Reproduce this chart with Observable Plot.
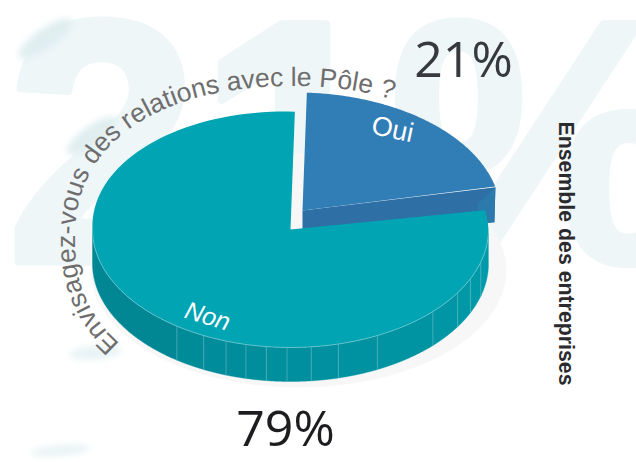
<!DOCTYPE html>
<html lang="fr">
<head>
<meta charset="utf-8">
<style>html,body{margin:0;padding:0;background:#fff}svg{display:block}</style>
<script src="https://cdn.jsdelivr.net/npm/d3@7"></script>
<script src="https://cdn.jsdelivr.net/npm/@observablehq/plot@0.6"></script>
</head>
<body>
<div id="chart"></div>
<script>
const categories = ["Oui", "Non"];
const shares = [21, 79];
const percentLabels = ["21%", "79%"];
const question = "Envisagez-vous des relations avec le Pôle ?";
const population = "Ensemble des entreprises";
const backdropLabel = "21%";
const wallRuleAngles = [106, 114.6, 122.5, 134, 154, 166, 174, 181, 187, 193, 199, 206, 215];
const wallColors = ["#009bab", "#00838f"];

const startAngle = 3, rx = 198, ry = 118, depth = 34, gap = 2;
const ouiCentre = [302, 210], nonCentre = [290, 229];
const ouiEnd = startAngle + 360 * shares[0] / 100;
const rad = a => a * Math.PI / 180;
const pt = (c, a, d = 0, r = rx, skew = 6) => ({
  x: c[0] + r * Math.sin(rad(a)) - skew * Math.max(0, Math.cos(rad(a))),
  y: c[1] - ry * Math.cos(rad(a)) + d
});
const arc = (c, a0, a1, d = 0) => d3.range(0, 121).map(i => pt(c, a0 + (a1 - a0) * i / 120, d));
const poly = (points, fill, o = {}) => Plot.line(points, {x: "x", y: "y", fill, stroke: "none", ...o});

const ellipse = (cx, cy, a, b, rot) => d3.range(0, 61).map(i => {
  const t = i / 60 * 2 * Math.PI, r = rad(rot);
  const u = a * Math.cos(t), v = b * Math.sin(t);
  return {x: cx + u * Math.cos(r) - v * Math.sin(r), y: cy + u * Math.sin(r) + v * Math.cos(r)};
});

const ouiApex = {x: ouiCentre[0], y: ouiCentre[1]};
const ouiTop = [ouiApex, ...arc(ouiCentre, startAngle, ouiEnd - 0.3), ouiApex];
const endTop = pt(ouiCentre, ouiEnd);
const endBottom = {x: endTop.x - 1, y: endTop.y + 35};
const ouiFront = [ouiApex, endTop, endBottom, {x: ouiApex.x, y: ouiApex.y + 19}];
const ouiEndWall = [endTop, {x: endTop.x - 19, y: endTop.y + 18}, {x: endBottom.x - 8, y: endBottom.y + 1}, endBottom];

const nonApex = {x: nonCentre[0], y: nonCentre[1]};
const nonTop = [nonApex, ...arc(nonCentre, ouiEnd + gap, startAngle + 360), nonApex];
const edges = [92, ...wallRuleAngles, 270];
const wallColor = d3.interpolateRgb(wallColors[0], wallColors[1]);
const facets = d3.range(edges.length - 1).map(i => {
  const a0 = edges[i], a1 = edges[i + 1];
  const top = arc(nonCentre, a0, a1), bot = arc(nonCentre, a1, a0, depth);
  return poly([...top, ...bot, top[0]], wallColor(((a0 + a1) / 2 - 92) / 178), {stroke: wallColor(((a0 + a1) / 2 - 92) / 178), strokeWidth: 0.4});
});
const rules = wallRuleAngles.map(a =>
  Plot.line([pt(nonCentre, a), pt(nonCentre, a, depth)], {x: "x", y: "y", stroke: "#6fc3cc", strokeWidth: 0.7, strokeOpacity: 0.75}));

function curvedQuestion(index, {x, y}) {
  const cx = 300, cy = 240, a = 225, b = 154;
  const pts = d3.range(0, 181).map(i => {
    const t = rad(140 + 200 * i / 180);
    const c = Math.cos(t), s = Math.sin(t);
    const n = c < 0 ? 2.3 : 2;
    return [x(cx + a * Math.sign(c) * Math.pow(Math.abs(c), 2 / n)), y(cy + b * Math.sign(s) * Math.pow(Math.abs(s), 2 / n))];
  });
  const ns = "http://www.w3.org/2000/svg";
  const g = document.createElementNS(ns, "g");
  const path = document.createElementNS(ns, "path");
  path.setAttribute("id", "questionPath");
  path.setAttribute("fill", "none");
  path.setAttribute("d", d3.line()(pts));
  const text = document.createElementNS(ns, "text");
  text.setAttribute("font-family", "Liberation Sans");
  text.setAttribute("font-size", "26.5");
  text.setAttribute("fill", "#6e6e6e");
  text.setAttribute("text-anchor", "start");
  const tp = document.createElementNS(ns, "textPath");
  tp.setAttribute("href", "#questionPath");
  tp.setAttribute("startOffset", "2");
  tp.textContent = question;
  text.appendChild(tp);
  g.appendChild(path);
  g.appendChild(text);
  return g;
}

const chart = Plot.plot({
  width: 636, height: 462,
  margin: 0,
  x: {domain: [0, 636], range: [0, 636], axis: null},
  y: {domain: [0, 462], range: [0, 462], axis: null},
  marks: [
    Plot.text([backdropLabel], {x: 6, y: 261, text: d => d, fontSize: 345, fontWeight: "bold", fontFamily: "Liberation Sans", fill: "#eef6f8", stroke: "#eef6f8", strokeWidth: 8, textAnchor: "start", lineAnchor: "bottom"}),
    poly(ellipse(45, 38, 32, 10, -35), "#e0eef0", {imageFilter: "blur(3px)"}),
    poly(ellipse(92, 135, 30, 10, -35), "#e0eef0", {imageFilter: "blur(3px)"}),
    poly(ellipse(95, 352, 26, 7, -5), "#e9f3f5", {imageFilter: "blur(3px)"}),
    poly(ellipse(60, 450, 30, 5, -5), "#e9f3f5", {imageFilter: "blur(3px)"}),
    poly(ellipse(298, 270, 208, 117, 0), "#f7f7f7"),
    poly(ouiFront, "#2e70a6"),
    poly(ouiEndWall, "#2c79ab"),
    poly(ouiTop, "#317db6"),
    ...facets,
    ...rules,
    poly(nonTop, "#00a4b3"),
    Plot.line(arc(nonCentre, 92, 270), {x: "x", y: "y", stroke: "#7ccdd5", strokeWidth: 0.7}),
    Plot.text([categories[0]], {x: 392, y: 129, text: d => d, fontSize: 27, fontFamily: "Liberation Sans", fill: "#fff", rotate: 12}),
    Plot.text([categories[1]], {x: 207, y: 316, text: d => d, fontSize: 25, fontStyle: "italic", fontFamily: "Liberation Sans", fill: "#fff", rotate: 17}),
    Plot.text([percentLabels[0]], {x: 463, y: 60, text: d => d, fontSize: 50, fontFamily: "Open Sans", fill: "#36393d"}),
    Plot.text([percentLabels[1]], {x: 285, y: 429, text: d => d, fontSize: 50, fontFamily: "Open Sans", fill: "#1d1d20"}),
    Plot.text([population], {x: 565, y: 253, text: d => d, fontSize: 21.3, fontWeight: "bold", fontFamily: "Liberation Sans", fill: "#2b2b2e", rotate: 90}),
    curvedQuestion
  ]
});
document.getElementById("chart").appendChild(chart);
</script>
</body>
</html>
